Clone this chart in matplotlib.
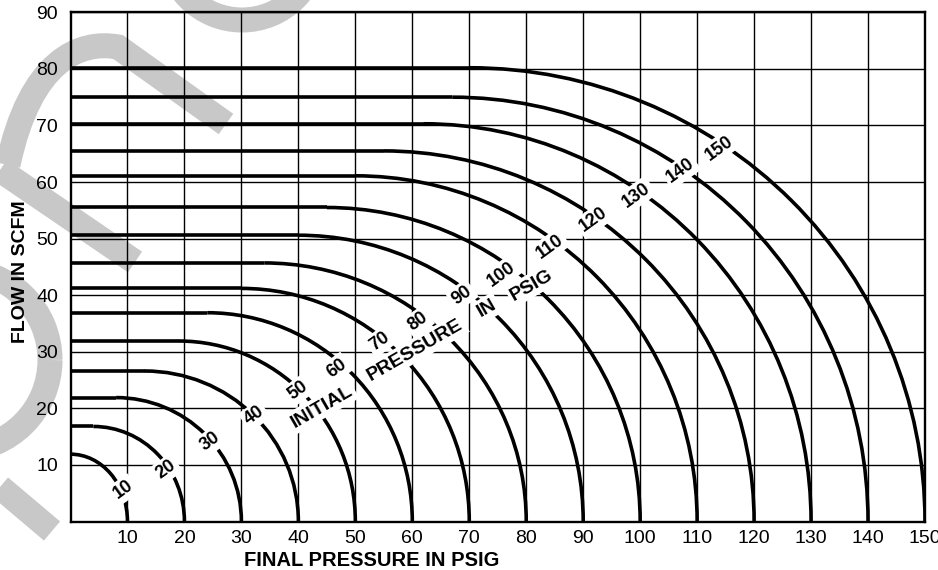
import matplotlib
matplotlib.use("Agg")
import matplotlib.pyplot as plt
from matplotlib.patches import Arc, PathPatch
from matplotlib.lines import Line2D
from matplotlib.path import Path

plt.rcParams['font.family'] = ['Liberation Sans', 'DejaVu Sans']

# initial pressure (psig) of each curve, its max (choked) flow and where it starts to bend
initial_psig = [10, 20, 30, 40, 50, 60, 70, 80, 90, 100, 110, 120, 130, 140, 150]
max_flow = [11.9, 16.8, 21.9, 26.6, 31.9, 36.9, 41.2, 45.7, 50.6, 55.5, 61.1, 65.5, 70.3, 75.0, 80.2]
knee_psig = [0, 4, 8, 13, 19, 24, 30, 34, 40, 45, 50, 55, 62, 67, 70]

# where each curve label sits (final psig, flow)
label_x = [9.3, 16.8, 24.5, 32.3, 40.0, 46.7, 54.3, 61.0, 68.7, 75.6, 84.2, 91.8, 99.4, 107.1, 113.9]
label_y = [5.6, 9.2, 14.1, 18.7, 23.2, 27.1, 31.8, 35.3, 40.0, 43.7, 48.6, 53.3, 57.7, 62.0, 66.0]

caption_words = ["INITIAL", "PRESSURE", "IN", "PSIG"]
caption_x = [44.1, 60.5, 73.1, 81.0]
caption_y = [20.3, 30.3, 37.7, 41.8]

x_ticks = [10, 20, 30, 40, 50, 60, 70, 80, 90, 100, 110, 120, 130, 140, 150]
y_ticks = [10, 20, 30, 40, 50, 60, 70, 80, 90]

W, H = 938, 570
fig = plt.figure(figsize=(W / 100, H / 100), dpi=100)
ax = fig.add_axes([70.5 / W, 48.5 / H, 854.5 / W, 509.2 / H])
ax.set_facecolor('none')

# light grey watermark strokes (pixel coords, y down)
wm = '#c8c8c8'
def px(x, y):
    return (x / W, 1 - y / H)

arch = Path([px(8, 165), px(30, 60), px(80, 40), px(118, 47), px(226, 124)],
            [Path.MOVETO, Path.CURVE4, Path.CURVE4, Path.CURVE4, Path.LINETO])
fig.add_artist(PathPatch(arch, transform=fig.transFigure, fill=False, ec=wm,
                         lw=18, capstyle='butt', zorder=-1))
for (x0, y0), (x1, y1) in [((0, 170), (135, 262)), ((0, 487), (52, 531))]:
    fig.add_artist(Line2D([x0 / W, x1 / W], [1 - y0 / H, 1 - y1 / H], transform=fig.transFigure,
                          color=wm, lw=18, solid_capstyle='butt', zorder=-1))
for cx, cy, r in [(242, -55, 75), (-40, 360, 90)]:
    fig.add_artist(Arc(px(cx, cy), 2 * r / W, 2 * r / H, theta1=0, theta2=360,
                       transform=fig.transFigure, color=wm, lw=18, zorder=-1))

# curves: flat choked part, then quarter ellipse down to zero flow
for p, q, k in zip(initial_psig, max_flow, knee_psig):
    if k > 0:
        ax.plot([0, k], [q, q], color='black', lw=2.6, solid_capstyle='butt', zorder=2)
    ax.add_patch(Arc((k, 0), 2 * (p - k), 2 * q, theta1=0, theta2=90,
                     color='black', lw=2.6, zorder=2))

box = dict(boxstyle='square,pad=0.15', fc='white', ec='none')
for p, x, y in zip(initial_psig, label_x, label_y):
    ax.text(x, y, str(p), rotation=36, ha='center', va='center', fontsize=13,
            fontweight='bold', bbox=box, zorder=3)
for w, x, y in zip(caption_words, caption_x, caption_y):
    ax.text(x, y, w, rotation=30, ha='center', va='center', fontsize=14,
            fontweight='bold', bbox=box, zorder=3)

ax.set_xlim(0, 150)
ax.set_ylim(0, 90)
ax.set_xticks(x_ticks)
ax.set_yticks(y_ticks)
ax.tick_params(length=0, labelsize=14)
ax.tick_params(axis='x', pad=6)
ax.tick_params(axis='y', pad=9)
ax.set_axisbelow(True)
ax.grid(True, color='black', lw=1.0)
for s in ax.spines.values():
    s.set_linewidth(1.7)

ax.set_xlabel('FINAL PRESSURE IN PSIG', fontsize=14.5, fontweight='bold')
ax.xaxis.set_label_coords(0.353, -0.058)
ax.set_ylabel('FLOW IN SCFM', fontsize=14, fontweight='bold')
ax.yaxis.set_label_coords(-0.048, 0.49)

fig.savefig('out.png', dpi=100)
